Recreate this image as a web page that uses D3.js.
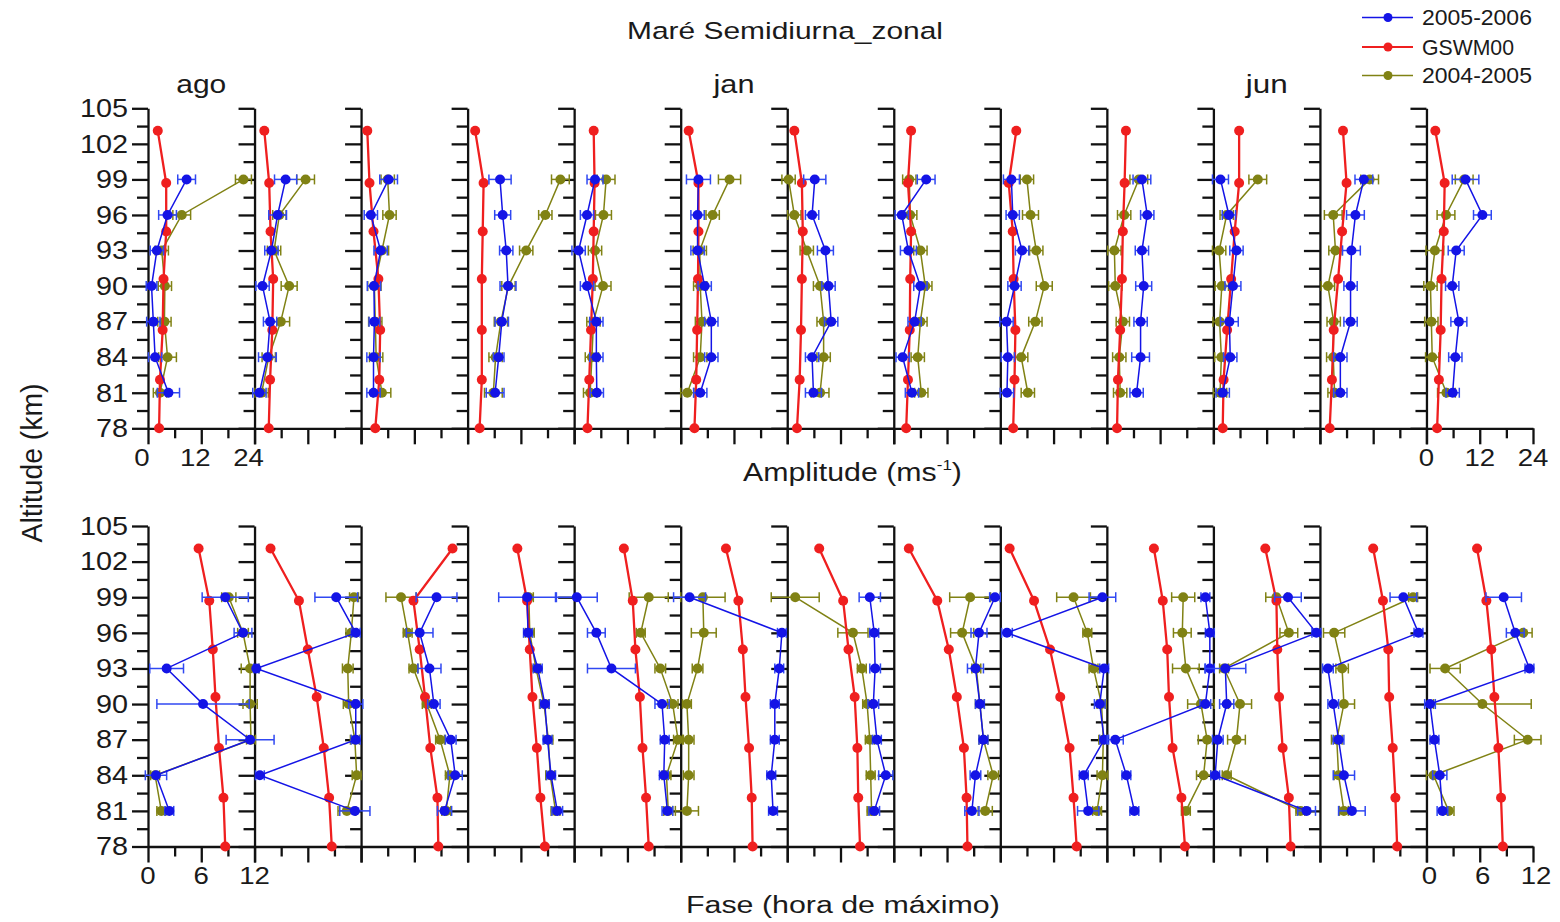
<!DOCTYPE html>
<html><head><meta charset="utf-8">
<script src="https://cdn.jsdelivr.net/npm/d3@7"></script>
<style>
body{margin:0;background:#fff}
svg{display:block}
text{font-family:"Liberation Sans",Arial,sans-serif;fill:#1a1a1a}
</style>
</head><body>
<svg id="c" width="1560" height="922"></svg>
<script>
// ---------------- DATA ----------------
const months = ["ago","set","out","nov","dez","jan","fev","mar","abr","mai","jun","jul","ago"];
const shownMonthIdx = [0,5,10];
const seriesNames = ["2005-2006","GSWM00","2004-2005"];
const obsAlt = [81,84,87,90,93,96,99];
const gswmAlt = [78,82.1,86.3,90.6,94.6,98.7,103.1];
const altMajorTicks = [78,81,84,87,90,93,96,99,102,105];
const altMinorTicks = [79.5,82.5,85.5,88.5,91.5,94.5,97.5,100.5,103.5];
const ampMajorTicks = [0,12,24];
const ampMinorTicks = [6,18];
const phaseMajorTicks = [0,6,12];
const phaseMinorTicks = [3,9];

// Amplitude (m/s), one row per month panel, values at obsAlt / gswmAlt
const amp0506 = [
 [4.6,1.6,1.2,0.8,2.0,4.4,8.7],
 [1.1,2.9,3.5,1.8,3.8,5.2,7.0],
 [2.8,2.8,3.0,2.9,4.4,2.2,6.2],
 [6.2,7.0,7.7,9.1,8.7,7.9,7.3],
 [5.1,5.0,5.0,2.9,1.0,2.9,4.7],
 [4.4,6.9,6.9,5.4,3.8,3.8,4.0],
 [5.9,5.6,9.9,9.3,8.6,5.6,6.2],
 [4.1,2.0,4.7,6.0,3.3,1.8,7.3],
 [1.5,1.7,1.4,3.2,4.9,2.8,2.5],
 [6.7,7.6,7.6,8.3,7.9,9.1,7.9],
 [2.1,3.8,3.6,4.4,5.2,3.5,1.6],
 [4.6,4.6,6.9,6.9,7.1,8.0,9.9],
 [5.9,6.5,7.3,5.8,6.7,12.6,8.8]
];
const amp0506Err = [
 [2.5,1.5,1.5,1.2,1.5,2.0,2.0],
 [1.5,2.0,1.5,1.5,1.5,2.0,2.5],
 [1.5,1.5,1.2,1.5,1.5,1.5,2.0],
 [2.0,1.2,1.5,1.8,1.5,1.8,2.5],
 [1.5,1.5,1.5,1.5,1.5,1.5,1.8],
 [1.5,1.5,1.5,1.5,1.5,1.5,2.7],
 [1.8,1.5,1.5,1.5,1.8,1.5,2.5],
 [1.5,1.5,1.5,1.5,1.8,1.5,2.0],
 [1.5,1.5,1.5,1.5,1.5,1.5,1.8],
 [1.5,2.0,1.5,1.8,1.5,1.5,2.0],
 [1.5,1.5,2.0,1.8,1.5,1.5,1.8],
 [1.5,1.5,1.5,1.5,2.0,2.0,2.0],
 [1.5,1.5,1.8,1.5,1.8,2.0,3.0]
];
const ampGswm = [
 [2.5,2.7,3.3,3.5,4.1,4.1,2.2],
 [3.2,3.5,4.0,4.2,3.6,3.3,2.2],
 [3.2,4.1,4.3,3.9,2.8,1.9,1.4],
 [2.7,3.2,3.2,3.2,3.4,3.6,1.7],
 [3.0,3.4,3.8,4.2,4.4,4.6,4.4],
 [3.1,3.5,3.7,3.9,4.0,4.0,1.8],
 [2.2,2.8,3.1,3.3,3.5,3.3,1.6],
 [2.8,3.2,3.6,3.7,3.9,3.2,3.9],
 [2.9,3.2,3.4,3.0,2.8,1.9,3.6],
 [2.3,2.5,3.0,3.4,3.6,4.0,4.3],
 [2.1,2.3,3.1,4.0,4.8,5.8,5.8],
 [2.2,2.7,3.1,4.1,5.0,6.0,5.2],
 [2.4,2.8,3.2,3.4,3.9,4.1,2.0]
];
const amp0405 = [
 [2.7,4.4,3.7,3.8,3.1,7.6,21.5],
 [1.6,3.2,5.9,7.8,4.4,5.6,11.5],
 [4.7,3.4,3.2,3.0,4.7,6.4,6.0],
 [5.8,6.3,7.5,9.2,13.2,17.5,20.9],
 [3.6,4.0,4.35,6.5,4.7,6.6,7.2],
 [1.5,4.4,4.8,4.4,4.3,7.2,11.0],
 [7.4,8.2,8.2,7.4,4.4,1.6,0.3],
 [6.2,5.4,6.0,7.1,6.0,3.7,3.5],
 [6.2,4.7,7.9,9.9,8.1,6.8,6.0],
 [3.0,2.8,3.6,1.9,1.7,3.9,7.2],
 [1.5,1.8,1.4,1.9,1.3,3.0,10.0],
 [3.3,3.0,3.1,1.8,3.5,3.0,11.2],
 [4.5,1.3,1.1,0.9,1.9,4.4,8.5]
];
const amp0405Err = [
 [1.5,2.0,1.5,1.5,1.5,2.0,1.8],
 [1.5,1.5,2.0,1.8,1.5,1.5,2.0],
 [2.0,1.5,1.5,1.5,1.5,1.5,1.5],
 [2.0,1.5,1.5,1.5,1.5,1.5,2.0],
 [1.5,1.5,1.5,1.8,1.5,1.8,2.0],
 [1.5,1.5,1.5,1.5,1.5,1.5,2.5],
 [2.0,1.5,1.5,1.5,1.5,1.5,1.5],
 [1.5,1.5,1.5,1.5,1.5,1.5,1.5],
 [1.5,1.5,1.5,1.8,1.5,1.8,1.5],
 [1.5,1.5,1.5,1.5,1.5,1.5,2.0],
 [1.5,1.5,1.5,1.5,1.5,1.5,2.0],
 [1.5,1.5,1.5,1.5,1.5,2.0,2.0],
 [2.0,1.5,1.5,1.5,2.0,2.0,2.0]
];

// Phase (hour of maximum)
const phase0506 = [
 [2.4,0.9,11.5,6.2,2.1,10.7,8.7],
 [11.3,0.6,11.4,11.4,0.2,11.4,9.2],
 [9.4,10.6,10.1,8.2,7.7,6.6,8.5],
 [10.1,9.4,9.0,8.7,7.9,6.8,6.7],
 [10.5,10.1,10.2,9.9,4.2,2.5,0.3],
 [10.4,10.2,10.6,10.6,11.1,11.4,1.0],
 [9.8,11.1,10.1,9.7,9.9,9.8,9.3],
 [8.8,9.2,10.1,9.7,9.2,9.6,11.4],
 [9.9,9.4,11.7,11.2,11.7,0.75,11.5],
 [3.1,2.2,0.95,11.1,11.6,11.6,11.1],
 [10.5,0.2,0.5,1.5,1.35,11.6,8.4],
 [3.6,2.7,2.1,1.5,0.9,11.1,9.4],
 [1.8,1.5,0.9,0.4,11.6,10.0,8.7]
];
const phase0506Err = [
 [0.5,1.2,2.7,5.2,1.9,1.0,2.6],
 [1.7,0.5,0.5,0.8,0.3,0.5,2.4],
 [0.8,0.8,0.6,0.7,1.3,1.5,2.3],
 [0.6,0.5,0.5,0.5,0.5,0.5,3.2],
 [0.6,0.5,0.5,0.8,2.7,1.0,2.3],
 [0.5,0.5,0.5,0.5,0.5,0.5,1.8],
 [0.6,0.8,0.5,0.6,0.6,0.5,1.2],
 [0.8,0.6,0.5,0.5,0.9,0.9,0.6],
 [1.2,0.5,0.5,0.6,0.5,0.6,1.5],
 [0.5,0.5,0.9,0.6,0.5,0.5,0.5],
 [1.0,0.5,0.6,0.8,2.3,0.5,1.5],
 [1.5,1.2,0.6,0.6,0.6,0.5,1.5],
 [0.6,0.8,0.5,0.6,0.5,1.0,2.0]
];
const phaseGswm = [
 [8.7,8.5,8.0,7.6,7.3,6.9,5.7],
 [8.7,8.4,7.8,7.0,6.0,5.0,1.8],
 [8.7,8.6,7.8,7.2,6.6,5.9,10.3],
 [8.7,8.2,7.8,7.3,7.0,6.7,5.6],
 [8.4,8.1,7.7,7.4,6.9,6.6,5.6],
 [8.1,8.0,7.7,7.3,7.0,6.5,5.1],
 [8.2,8.0,7.9,7.6,6.9,6.3,3.6],
 [8.3,8.2,7.9,7.1,6.2,4.9,1.7],
 [8.6,8.25,7.8,6.75,5.6,3.8,1.05],
 [8.8,8.4,7.4,7.0,6.8,6.3,5.3],
 [8.7,8.5,7.8,7.4,7.2,7.1,5.85],
 [8.7,8.5,8.2,7.8,7.7,7.1,6.0],
 [8.6,8.4,8.1,7.65,7.3,6.75,5.7]
];
const phase0405 = [
 [1.5,0.8,11.6,11.5,11.5,10.7,9.1],
 [10.4,11.5,11.3,10.6,10.5,10.9,11.2],
 [9.6,10.0,8.9,7.4,5.9,5.25,4.5],
 [9.9,9.3,9.1,8.6,7.7,7.0,6.9],
 [10.6,10.4,11.7,11.1,9.7,7.5,8.4],
 [0.7,0.9,0.9,0.7,1.9,2.6,2.5],
 [9.5,9.4,9.3,9.0,8.4,7.4,0.9],
 [10.3,11.2,10.1,9.7,9.3,7.7,8.6],
 [10.9,11.5,11.6,11.4,10.5,9.8,8.25],
 [8.9,10.9,11.3,10.6,8.9,8.5,8.6],
 [9.8,1.5,2.6,3.0,1.2,8.5,7.1],
 [2.7,2.1,1.9,2.7,2.5,1.6,10.5],
 [2.5,0.8,11.4,6.3,2.1,10.9,null]
];
const phase0405Err = [
 [0.5,0.5,0.5,0.8,1.0,0.6,0.8],
 [1.0,0.5,0.5,0.6,0.6,0.6,0.5],
 [0.5,0.5,0.5,0.5,0.5,0.5,1.7],
 [0.5,0.5,0.5,0.5,0.5,0.5,0.5],
 [0.5,0.5,0.5,0.6,0.6,0.5,2.2],
 [1.3,0.6,0.6,0.5,0.6,1.4,2.5],
 [0.5,0.5,0.5,0.5,0.5,1.7,2.7],
 [0.8,0.6,0.5,0.5,0.5,1.3,2.3],
 [0.5,0.6,0.5,0.5,0.5,0.5,1.9],
 [0.5,0.8,1.0,1.5,1.5,1.0,1.3],
 [0.5,0.5,1.0,1.3,0.5,1.0,1.2],
 [0.5,0.5,0.6,1.2,0.7,1.2,0.5],
 [0.6,0.8,1.5,5.5,1.7,1.0,null]
];

// ---------------- LAYOUT / STYLE ----------------
const svg = d3.select("#c");
const PANEL_LEFT = 148, PANEL_W = 1385 / 13;
const AX = "#111", AXW = 2.3;
const COL = {blue:"#1414e6", blueErr:"#3048f2", red:"#ef1f1f", olive:"#808214"};

function txt(parent, str, x, y, size, anchor, targetW, sx){
  const g = parent.append("g").attr("transform", `translate(${x},${y})`);
  const t = g.append("text").attr("font-size", size).attr("text-anchor", anchor).text(str);
  let k = sx || 1;
  if (targetW) k = targetW / t.node().getComputedTextLength();
  g.attr("transform", `translate(${x},${y}) scale(${k},1)`);
  return t;
}

const rows = [
  {top:108.3, bottom:428.3, xMax:24, major:ampMajorTicks, minor:ampMinorTicks,
   s0506:amp0506, e0506:amp0506Err, gswm:ampGswm, s0405:amp0405, e0405:amp0405Err, labelShift:[-6,0]},
  {top:526, bottom:846.5, xMax:12, major:phaseMajorTicks, minor:phaseMinorTicks,
   s0506:phase0506, e0506:phase0506Err, gswm:phaseGswm, s0405:phase0405, e0405:phase0405Err, labelShift:[0,3]}
];

function styleAxis(g){
  g.selectAll(".domain").attr("stroke", AX).attr("stroke-width", AXW);
  g.selectAll(".tick line").attr("stroke", AX).attr("stroke-width", AXW);
  g.selectAll(".tick text").remove();
}

rows.forEach((row, ri) => {
  const ys = d3.scaleLinear().domain([78,105]).range([row.bottom,row.top]);
  const layer = svg.append("g");
  const axesG = layer.append("g");
  const dataG = layer.append("g");

  months.forEach((m, i) => {
    const x0 = PANEL_LEFT + i * PANEL_W;
    const xs = d3.scaleLinear().domain([0,row.xMax]).range([x0, x0 + PANEL_W]);

    // x axis
    axesG.append("g").attr("transform", `translate(0,${row.bottom})`)
      .call(d3.axisBottom(xs).tickValues(row.major).tickSize(16).tickSizeOuter(0).tickFormat(""))
      .call(styleAxis);
    axesG.append("g").attr("transform", `translate(0,${row.bottom})`)
      .call(d3.axisBottom(xs).tickValues(row.minor).tickSize(10).tickSizeOuter(0).tickFormat(""))
      .call(styleAxis).call(g => g.select(".domain").remove());
    // y axis
    axesG.append("g").attr("transform", `translate(${x0},0)`)
      .call(d3.axisLeft(ys).tickValues(altMajorTicks).tickSize(16).tickSizeOuter(0).tickFormat(""))
      .call(styleAxis);
    axesG.append("g").attr("transform", `translate(${x0},0)`)
      .call(d3.axisLeft(ys).tickValues(altMinorTicks).tickSize(11).tickSizeOuter(0).tickFormat(""))
      .call(styleAxis).call(g => g.select(".domain").remove());

    // tick labels
    if (i === 0) {
      altMajorTicks.forEach(v => txt(axesG, String(v), 128, ys(v) + 8.8, 25.5, "end", null, 1.13));
    }
    if (i === 0 || i === months.length - 1) {
      const sh = i === 0 ? row.labelShift[0] : row.labelShift[1];
      row.major.forEach(v => txt(axesG, String(v), xs(v) + sh, row.bottom + 37.5, 24, "middle", null, 1.15));
    }
    if (ri === 0 && shownMonthIdx.includes(i)) {
      const w = {ago:50, jan:41, jun:42}[m];
      txt(axesG, m, x0 + PANEL_W / 2, 93, 26, "middle", w);
    }

    // series data
    const series = [
      {alt:obsAlt, v:row.s0405[i], e:row.e0405[i], col:COL.olive, ecol:COL.olive, lw:1.5},
      {alt:gswmAlt, v:row.gswm[i], e:null, col:COL.red, ecol:null, lw:2.3},
      {alt:obsAlt, v:row.s0506[i], e:row.e0506[i], col:COL.blue, ecol:COL.blueErr, lw:1.5}
    ];
    series.forEach(s => {
      const pts = s.alt.map((a, k) => ({a, v:s.v[k], e:s.e ? s.e[k] : null}));
      const g = dataG.append("g");
      if (s.e) {
        pts.filter(p => p.v != null && p.e != null).forEach(p => {
          const y = ys(p.a), xl = xs(p.v - p.e), xr = xs(p.v + p.e);
          g.append("line").attr("x1", xl).attr("x2", xr).attr("y1", y).attr("y2", y)
            .attr("stroke", s.ecol).attr("stroke-width", 1.5);
          [xl, xr].forEach(xx => g.append("line").attr("x1", xx).attr("x2", xx)
            .attr("y1", y - 5).attr("y2", y + 5).attr("stroke", s.ecol).attr("stroke-width", 1.5));
        });
      }
      const line = d3.line().defined(p => p.v != null).x(p => xs(p.v)).y(p => ys(p.a));
      g.append("path").attr("d", line(pts)).attr("fill", "none")
        .attr("stroke", s.col).attr("stroke-width", s.lw);
      g.selectAll("circle").data(pts.filter(p => p.v != null)).join("circle")
        .attr("cx", p => xs(p.v)).attr("cy", p => ys(p.a)).attr("r", 5).attr("fill", s.col);
    });
  });
});

// titles
txt(svg, "Maré Semidiurna_zonal", 785, 39, 23.5, "middle", 316);
// Amplitude label with superscript
{
  const g = svg.append("g");
  const t = g.append("text").attr("font-size", 25).attr("text-anchor", "start");
  t.append("tspan").text("Amplitude (ms");
  t.append("tspan").attr("font-size", 14).attr("dy", -11).text("-1");
  t.append("tspan").attr("dy", 11).text(")");
  const w = t.node().getBBox().width;
  g.attr("transform", `translate(743,481) scale(${219 / w},1)`);
}
txt(svg, "Fase (hora de máximo)", 686, 913, 24.5, "start", 314);
{
  const g = svg.append("g");
  const t = g.append("text").attr("font-size", 27.5).attr("text-anchor", "middle").text("Altitude (km)");
  const w = t.node().getComputedTextLength();
  g.attr("transform", `translate(42,463) rotate(-90) scale(${159 / w},1.1)`);
}

// legend
const legendCols = [COL.blue, COL.red, COL.olive];
const legendLw = [1.4, 2.2, 1.4];
const legendY = [17.5, 47, 75.5];
const legendW = [110, 92, 110];
seriesNames.forEach((n, k) => {
  const y = legendY[k];
  svg.append("line").attr("x1", 1362).attr("x2", 1413).attr("y1", y).attr("y2", y)
    .attr("stroke", legendCols[k]).attr("stroke-width", legendLw[k]);
  svg.append("circle").attr("cx", 1388).attr("cy", y).attr("r", 4.5).attr("fill", legendCols[k]);
  txt(svg, n, 1422, y + 7.5, 21.5, "start", legendW[k]);
});
</script>
</body></html>
